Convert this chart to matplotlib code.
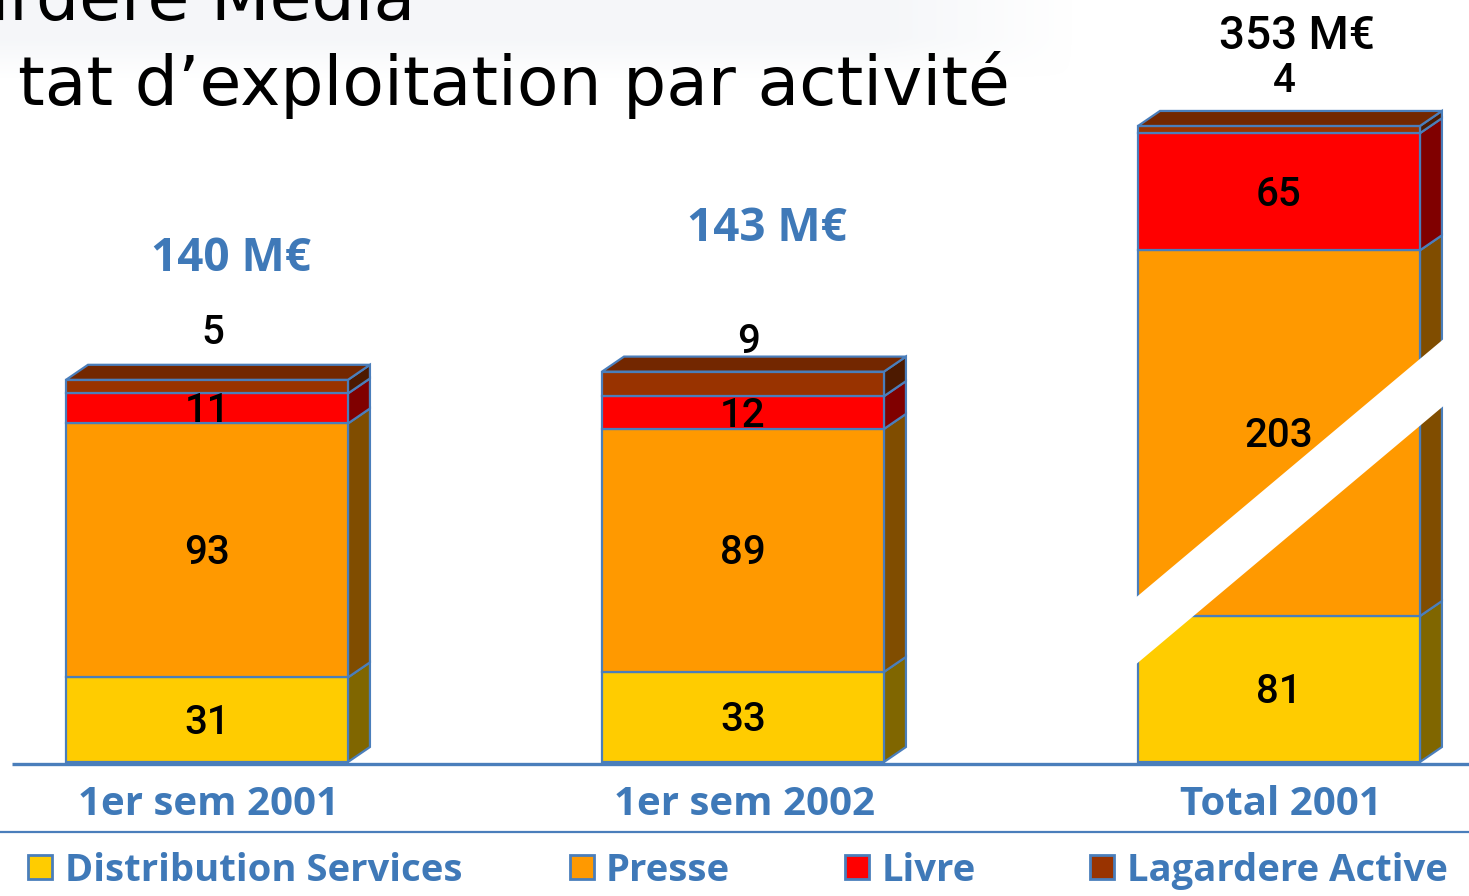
import matplotlib
matplotlib.use("Agg")
import matplotlib.pyplot as plt
import numpy as np
from matplotlib.patches import Rectangle, Polygon

# ---------------- data ----------------
categories = ["1er sem 2001", "1er sem 2002", "Total 2001"]
series_names = ["Distribution Services", "Presse", "Livre", "Lagardere Active"]
distribution = [31, 33, 81]
presse = [93, 89, 203]
livre = [11, 12, 65]
lagardere_active = [5, 9, 4]
totals = [140, 143, 353]
total_labels = ["140 M€", "143 M€", "353 M€"]

# ---------------- style ----------------
front_colors = ["#FFCC00", "#FF9900", "#FF0000", "#993300"]
side_colors = ["#806600", "#804D00", "#800000", "#4D1A00"]
top_color = "#732700"
edge_blue = "#4A7EBB"
text_blue = "#3F79B8"

scale = [1.0, 1.0, 0.66]      # third bar drawn with a broken (compressed) scale
hw = 0.263                    # half width of bar front
dx, dy = 0.041, 5.5           # 3D depth offsets

fig = plt.figure(figsize=(14.69, 8.96), dpi=100)
ax = fig.add_axes([0, 0, 1, 1])
ax.axis("off")

# faint grey header band behind the title
band = np.ones((40, 200, 4))
band[..., 0] = 0.925
band[..., 1] = 0.935
band[..., 2] = 0.955
yy = np.linspace(1, 0, 40)[:, None]
xx = np.linspace(0, 1, 200)[None, :]
alpha = np.clip((1 - xx) / 0.18, 0, 1) * np.clip(yy / 0.5, 0, 1)
band[..., 3] = alpha * 0.5
ax.imshow(band, extent=(-0.3862, 1.62, 250.0, 279.12), aspect="auto", zorder=0,
          interpolation="bilinear")
ax.set_xlim(-0.3862, 2.3545)
ax.set_ylim(-49.08, 279.12)

num_font = dict(family=["Roboto", "DejaVu Sans"], fontweight="medium", fontsize=29, color="black")
blue_font = dict(family=["Open Sans", "DejaVu Sans"], fontweight="bold", color=text_blue)

series = [distribution, presse, livre, lagardere_active]
for i, cat in enumerate(categories):
    s = scale[i]
    x = i
    base = 0.0
    for k, vals in enumerate(series):
        h = vals[i] * s
        y0, y1 = base, base + h
        ax.add_patch(Rectangle((x - hw, y0), 2 * hw, h, facecolor=front_colors[k],
                               edgecolor=edge_blue, lw=1.6, zorder=3))
        ax.add_patch(Polygon([(x + hw, y0), (x + hw + dx, y0 + dy),
                              (x + hw + dx, y1 + dy), (x + hw, y1)], closed=True,
                             facecolor=side_colors[k], edgecolor=edge_blue, lw=1.6, zorder=2))
        if k < 3:
            ax.text(x, (y0 + y1) / 2 - 1.1, str(vals[i]), ha="center", va="center", zorder=6,
                    **num_font)
        base = y1
    top = base
    ax.add_patch(Polygon([(x - hw, top), (x - hw + dx, top + dy), (x + hw + dx, top + dy),
                          (x + hw, top)], closed=True, facecolor=top_color,
                         edgecolor=edge_blue, lw=1.6, zorder=4))
    # small top segment label above the bar
    off = [11.5, 5.3, 11.0][i]
    ax.text(x + 0.01, top + dy + off, str(lagardere_active[i]), ha="center", va="center",
            zorder=6, **num_font)
    # totals
    if i < 2:
        toff = [44.4, 52.4][i]
        ax.text(x + 0.045, totals[i] * s + toff, total_labels[i], ha="center", va="center",
                fontsize=33, zorder=6, **blue_font)
    else:
        ax.text(x + 0.034, totals[i] * s + 33.0, total_labels[i], ha="center", va="center",
                fontsize=33, family=["Roboto", "DejaVu Sans"], fontweight="medium",
                color="black", zorder=6)
    # category label
    ax.text(x + 0.003, -15.4, cat, ha="center", va="center", fontsize=29, zorder=6, **blue_font)

# axis break stripe on the third bar
bx = 2
yl, yr, th = 48.0, 143.0, 24.5
xl, xr = bx - hw - 0.004, bx + hw + dx + 0.005
ax.add_patch(Polygon([(xl, yl - th / 2), (xr, yr - th / 2), (xr, yr + th / 2), (xl, yl + th / 2)],
                     closed=True, facecolor="white", edgecolor="none", zorder=5))

# baseline and separator lines
ax.plot([-0.364, 2.36], [-0.73, -0.73], color=edge_blue, lw=2.4, zorder=4, solid_capstyle="butt")
ax.plot([-0.39, 2.36], [-25.6, -25.6], color=edge_blue, lw=1.6, zorder=4, solid_capstyle="butt")

# legend
sq_left = [-0.334, 0.677, 1.190, 1.647]
txt_left = [-0.265, 0.744, 1.258, 1.717]
sq_w, sq_h = 0.0448, 8.8
for k, name in enumerate(series_names):
    ax.add_patch(Rectangle((sq_left[k], -38.5 - sq_h / 2), sq_w, sq_h, facecolor=front_colors[k],
                           edgecolor=edge_blue, lw=2, zorder=4))
    ax.text(txt_left[k], -39.9, name, ha="left", va="center", fontsize=27.5, **blue_font)

# title (the slide crops its first words; only the visible part is drawn)
ax.text(0.388, 271.8, "Lagardere Media", ha="right", va="baseline", fontsize=49,
        family=["DejaVu Sans"], color="black")
ax.text(1.498, 240.7, "tat d\u2019exploitation par activité", ha="right", va="baseline",
        fontsize=49, family=["DejaVu Sans"], color="black")

fig.savefig("out.png", dpi=100)
